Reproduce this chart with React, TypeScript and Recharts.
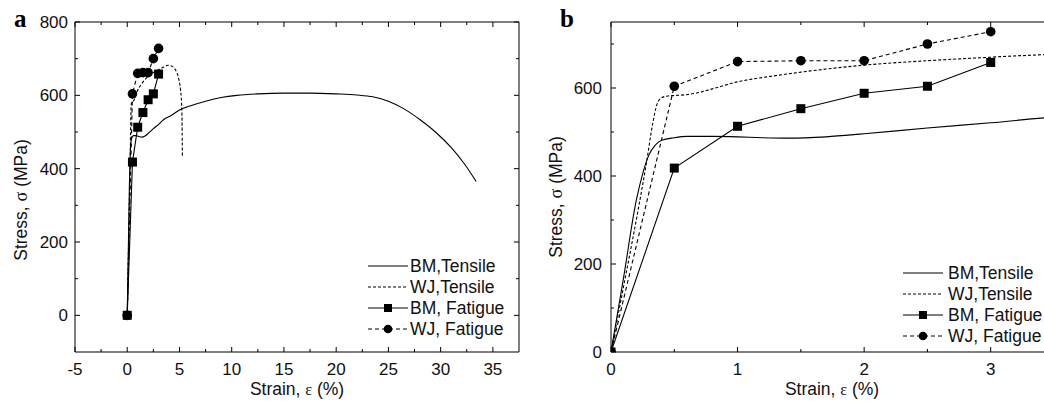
import { LineChart, Line, XAxis, YAxis, Legend, ReferenceLine } from "recharts";

const FONT = "Arial, 'Liberation Sans', Helvetica, sans-serif";
const SERIF = "'Times New Roman', 'Liberation Serif', serif";

// tensile curves, strain (%) vs stress (MPa)
const bmTensileStrain = [0, 0.1, 0.2, 0.25, 0.3, 0.35, 0.4, 0.5, 0.6, 0.8, 1.0, 1.2, 1.4, 1.7, 2.0, 2.5, 3.0, 3.5, 4.2, 5, 6, 7.5, 9, 10.5, 12.5, 15, 17.5, 20, 22, 23.5, 25, 26.5, 28, 29.5, 31, 32.3, 33.4];
const bmTensileStress = [0, 170, 345, 405, 448, 470, 481, 487, 490, 490, 489, 487, 486, 489, 496, 509, 521, 534, 545, 560, 571, 584, 594, 600, 604, 606, 606, 604, 601, 596, 584, 563, 534, 500, 458, 412, 365];

const wjTensileStrain = [0, 0.1, 0.21, 0.28, 0.33, 0.36, 0.4, 0.45, 0.5, 0.6, 0.7, 0.8, 1.0, 1.25, 1.5, 2.0, 2.5, 3.0, 3.5, 3.9, 4.3, 4.6, 4.9, 5.1, 5.2, 5.25, 5.28];
const wjTensileStress = [0, 150, 316, 430, 520, 560, 578, 582, 583, 585, 590, 598, 614, 626, 636, 652, 662, 670, 677, 682, 679, 670, 648, 615, 580, 520, 433];

// fatigue tests
const fatigueStrain = [0, 0.5, 1, 1.5, 2, 2.5, 3];
const bmFatigueStress = [0, 418, 513, 553, 588, 604, 658];
const wjFatigueStress = [0, 604, 660, 662, 662, 700, 728];

// axis ticks
const aXMajor = [-5, 0, 5, 10, 15, 20, 25, 30, 35];
const aXTicks = [-5, -2.5, 0, 2.5, 5, 7.5, 10, 12.5, 15, 17.5, 20, 22.5, 25, 27.5, 30, 32.5, 35];
const aYMajor = [0, 200, 400, 600, 800];
const aYTicks = [0, 100, 200, 300, 400, 500, 600, 700, 800];
const bXMajor = [0, 1, 2, 3];
const bXTicks = [0, 0.5, 1, 1.5, 2, 2.5, 3];
const bYMajor = [0, 200, 400, 600];
const bYTicks = [0, 100, 200, 300, 400, 500, 600, 700];

const legendItems = [
  { name: "BM,Tensile", dash: "", marker: "" },
  { name: "WJ,Tensile", dash: "3 2", marker: "" },
  { name: "BM, Fatigue", dash: "", marker: "square" },
  { name: "WJ, Fatigue", dash: "4 3", marker: "circle" },
];

const pts = (xs: number[], ys: number[]) => xs.map((x, i) => ({ x, y: ys[i] }));
const bmTensile = pts(bmTensileStrain, bmTensileStress);
const wjTensile = pts(wjTensileStrain, wjTensileStress);
const bmFatigue = pts(fatigueStrain, bmFatigueStress);
const wjFatigue = pts(fatigueStrain, wjFatigueStress);

const isMajor = (majors: number[], v: number) => majors.some((m) => Math.abs(m - v) < 1e-9);

// tick labels only (tick marks are drawn as reference segments inside the frame)
const labelRenderer = (side: string, majors: number[]) => (p: any) => {
  const v = p.payload.value;
  if (!isMajor(majors, v)) return <g />;
  return side === "bottom" ? (
    <text x={p.x} y={p.y} dy="0.74em" textAnchor="middle" fontSize={17} fontFamily={FONT} fill="#111">
      {v}
    </text>
  ) : (
    <text x={p.x} y={p.y} dy="0.36em" textAnchor="end" fontSize={17} fontFamily={FONT} fill="#111">
      {v}
    </text>
  );
};

// inward tick marks on all four sides; lengths given in data units of each panel
function frameTicks(
  key: string,
  xd: number[], yd: number[],
  xt: number[], xm: number[], yt: number[], ym: number[],
  xLen: number, yLen: number, sides: string[]
) {
  const segs: any[] = [];
  xt.forEach((v) => {
    const l = (isMajor(xm, v) ? 5 : 3) * yLen;
    if (sides.includes("bottom")) segs.push([{ x: v, y: yd[0] }, { x: v, y: yd[0] + l }]);
    if (sides.includes("top")) segs.push([{ x: v, y: yd[1] }, { x: v, y: yd[1] - l }]);
  });
  yt.forEach((v) => {
    const l = (isMajor(ym, v) ? 5 : 3) * xLen;
    if (sides.includes("left")) segs.push([{ x: xd[0], y: v }, { x: xd[0] + l, y: v }]);
    if (sides.includes("right")) segs.push([{ x: xd[1], y: v }, { x: xd[1] - l, y: v }]);
  });
  const lines = segs.map((s, i) => (
    <ReferenceLine key={`${key}-t${i}`} segment={s} stroke="#000" strokeWidth={1} ifOverflow="visible" />
  ));
  // frame: top and right borders
  lines.push(<ReferenceLine key={`${key}-top`} segment={[{ x: xd[0], y: yd[1] }, { x: xd[1], y: yd[1] }]} stroke="#000" strokeWidth={1} ifOverflow="visible" />);
  if (sides.includes("right"))
    lines.push(<ReferenceLine key={`${key}-right`} segment={[{ x: xd[1], y: yd[0] }, { x: xd[1], y: yd[1] }]} stroke="#000" strokeWidth={1} ifOverflow="visible" />);
  return lines;
}

const squareDot = (p: any) => (
  <rect key={`sq-${p.index}`} x={p.cx - 4.5} y={p.cy - 4.5} width={9} height={9} fill="#000" />
);
const circleDot = (p: any) => (
  <circle key={`ci-${p.index}`} cx={p.cx} cy={p.cy} r={4.8} fill="#000" />
);

function LegendBox({ lineX, textX }: { lineX: number; textX: number }) {
  return (
    <svg width={175} height={90} style={{ overflow: "visible" }}>
      {legendItems.map((it, i) => {
        const y = 11 + i * 21;
        return (
          <g key={it.name}>
            <line x1={lineX} x2={lineX + 40} y1={y} y2={y} stroke="#000" strokeWidth={1} strokeDasharray={it.dash || undefined} />
            {it.marker === "square" && <rect x={lineX + 16} y={y - 4} width={8} height={8} fill="#000" />}
            {it.marker === "circle" && <circle cx={lineX + 20} cy={y} r={4.3} fill="#000" />}
            <text x={textX} y={y} dy="0.36em" fontSize={17.5} fontFamily={FONT} fill="#111">
              {it.name}
            </text>
          </g>
        );
      })}
    </svg>
  );
}

const yTitle = (x: number, y: number) => () =>
  (
    <text x={x} y={y} transform={`rotate(-90, ${x}, ${y})`} textAnchor="middle" dominantBaseline="central" fontSize={17.5} fontFamily={FONT} fill="#111">
      Stress, <tspan fontFamily={SERIF} fontSize={18}>σ</tspan> (MPa)
    </text>
  );

const xTitle = (x: number, y: number) => () =>
  (
    <text x={x} y={y} textAnchor="middle" dominantBaseline="central" fontSize={17.5} fontFamily={FONT} fill="#111">
      Strain, <tspan fontFamily={SERIF} fontSize={16}>ε</tspan> (%)
    </text>
  );

function Series() {
  return [
    <Line key="bt" data={bmTensile} dataKey="y" name="BM,Tensile" type="monotone" stroke="#000" strokeWidth={1.1} dot={false} activeDot={false} isAnimationActive={false} />,
    <Line key="wt" data={wjTensile} dataKey="y" name="WJ,Tensile" type="monotone" stroke="#000" strokeWidth={1.1} strokeDasharray="3 2" dot={false} activeDot={false} isAnimationActive={false} />,
    <Line key="bf" data={bmFatigue} dataKey="y" name="BM, Fatigue" type="linear" stroke="#000" strokeWidth={1.1} dot={squareDot} activeDot={false} isAnimationActive={false} />,
    <Line key="wf" data={wjFatigue} dataKey="y" name="WJ, Fatigue" type="linear" stroke="#000" strokeWidth={1.1} strokeDasharray="4 3" dot={circleDot} activeDot={false} isAnimationActive={false} />,
  ];
}

const aXDomain = [-5, 37.5];
const aYDomain = [-100, 800];
const bXDomain = [0, 3.5];
const bYDomain = [0, 750];

export default function App() {
  return (
    <div style={{ position: "absolute", left: 0, top: 0, width: 1044, height: 409, overflow: "hidden", background: "#fff" }}>
      {/* panel a */}
      <div style={{ position: "absolute", left: 0, top: 0 }}>
        <LineChart width={530} height={409} margin={{ top: 22, right: 11, bottom: 0, left: 0 }}>
          <XAxis dataKey="x" type="number" domain={aXDomain} ticks={aXTicks} interval={0} height={57} tickSize={0} tickMargin={10} tickLine={false} axisLine={{ stroke: "#000" }} tick={labelRenderer("bottom", aXMajor)} allowDataOverflow label={{ content: xTitle(297, 389) }} />
          <YAxis type="number" domain={aYDomain} ticks={aYTicks} interval={0} width={75} tickSize={0} tickMargin={7} tickLine={false} axisLine={{ stroke: "#000" }} tick={labelRenderer("left", aYMajor)} allowDataOverflow label={{ content: yTitle(21, 200) }} />
          {frameTicks("a", aXDomain, aYDomain, aXTicks, aXMajor, aYTicks, aYMajor, 42.5 / 444, 900 / 330, ["bottom", "top", "left", "right"])}
          {Series()}
          <Legend layout="horizontal" verticalAlign="middle" align="center" wrapperStyle={{ left: 366, top: 255, width: 175, height: 90 }} content={() => <LegendBox lineX={2} textX={44} />} />
        </LineChart>
      </div>
      {/* panel b */}
      <div style={{ position: "absolute", left: 530, top: 0 }}>
        <LineChart width={524} height={409} margin={{ top: 22, right: 0, bottom: 0, left: 0 }}>
          <XAxis dataKey="x" type="number" domain={bXDomain} ticks={bXTicks} interval={0} height={57} tickSize={0} tickMargin={10} tickLine={false} axisLine={{ stroke: "#000" }} tick={labelRenderer("bottom", bXMajor)} allowDataOverflow label={{ content: xTitle(302, 389) }} />
          <YAxis type="number" domain={bYDomain} ticks={bYTicks} interval={0} width={81} tickSize={0} tickMargin={9} tickLine={false} axisLine={{ stroke: "#000" }} tick={labelRenderer("left", bYMajor)} allowDataOverflow label={{ content: yTitle(26, 197) }} />
          {frameTicks("b", bXDomain, bYDomain, bXTicks, bXMajor, bYTicks, bYMajor, 3.5 / 443, 750 / 330, ["bottom", "top", "left"])}
          {Series()}
          <Legend layout="horizontal" verticalAlign="middle" align="center" wrapperStyle={{ left: 371, top: 262, width: 175, height: 90 }} content={() => <LegendBox lineX={2} textX={47} />} />
        </LineChart>
      </div>
      {/* panel letters */}
      <svg width={1044} height={409} style={{ position: "absolute", left: 0, top: 0, pointerEvents: "none" }}>
        <text x={14} y={27} fontSize={25} fontWeight="bold" fontFamily={SERIF} fill="#000">a</text>
        <text x={560} y={27} fontSize={25} fontWeight="bold" fontFamily={SERIF} fill="#000">b</text>
      </svg>
    </div>
  );
}
